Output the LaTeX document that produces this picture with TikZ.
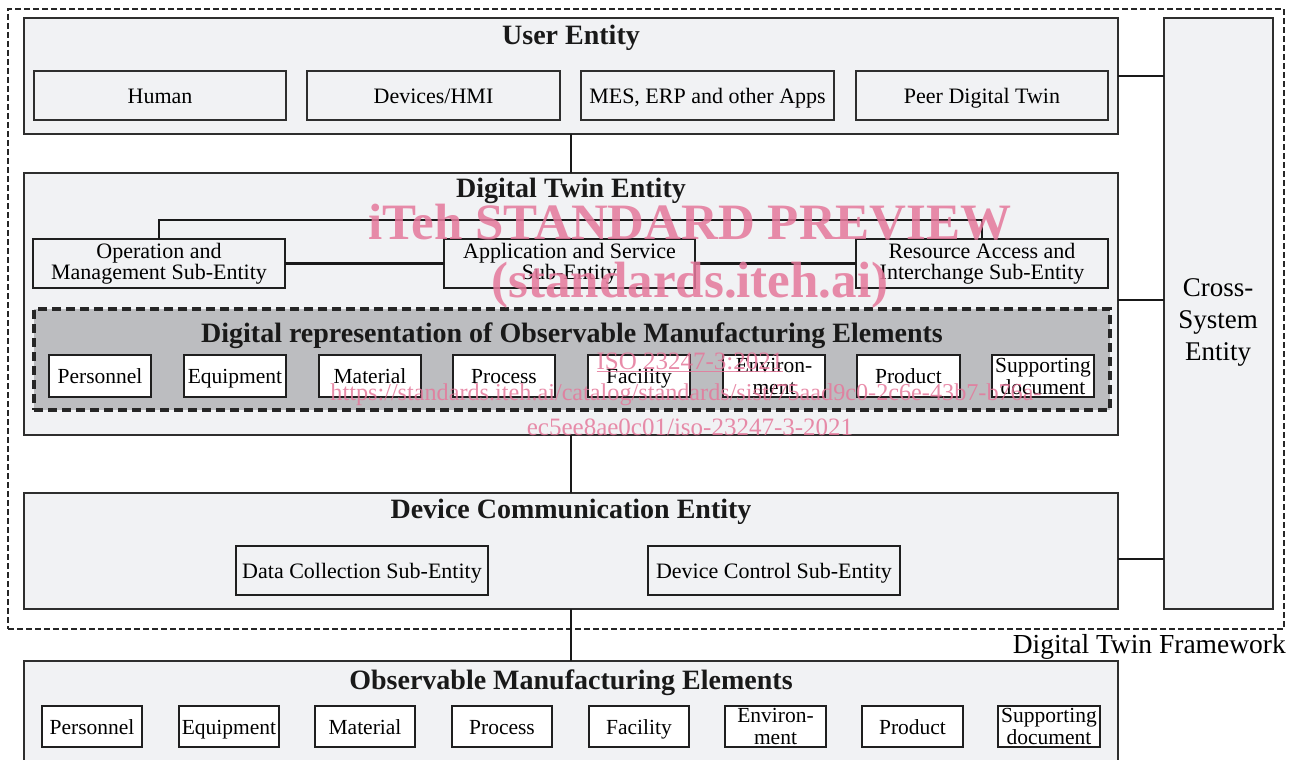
\documentclass[tikz,border=0pt]{standalone}
\usepackage{fontspec}
\setmainfont{Liberation Serif}
\usetikzlibrary{calc}
\definecolor{entfill}{HTML}{F1F2F4}
\definecolor{repfill}{HTML}{BCBDC0}
\definecolor{edgec}{HTML}{2E2E2E}
\definecolor{wmc}{HTML}{E5789B}
\tikzset{
  ent/.style={draw=edgec, line width=1.4pt, fill=entfill, anchor=north west, inner sep=0pt, outer sep=0pt},
  ubox/.style={draw=edgec, line width=1.2pt, fill=entfill, anchor=north west, inner sep=0pt, outer sep=0pt, align=center, font=\fontsize{22}{24}\selectfont},
  sbox/.style={draw=black!88, line width=2.2pt, fill=entfill, anchor=north west, inner sep=0pt, outer sep=0pt, align=center, font=\fontsize{22}{21}\selectfont},
  ebox/.style={draw=black!88, line width=1.8pt, fill=white, anchor=north west, inner sep=0pt, outer sep=0pt, align=center, font=\fontsize{21.5}{22}\selectfont},
  one/.style={text height=15pt, text depth=0pt},
  repbox/.style={draw=black!85, line width=4pt, dash pattern=on 9pt off 5pt, fill=repfill, anchor=north west, inner sep=0pt, outer sep=0pt},
  frame/.style={draw=black!85, line width=1.8pt, dash pattern=on 6pt off 3pt, anchor=north west, inner sep=0pt, outer sep=0pt},
  ttl/.style={font=\fontsize{28}{30}\selectfont\bfseries, text=black!90, inner sep=0pt, text height=19pt, text depth=0pt},
  conn/.style={draw=black!90, line width=1.6pt},
  iconn/.style={draw=black!90, line width=2.2pt},
  wm/.style={text=wmc, opacity=0.85, inner sep=0pt},
}
\newcommand{\bx}[7]{\node[#2, minimum width={#5-#3}, minimum height={#6-#4}] (#1) at (#3,#4) {#7};}
\begin{document}
\begin{tikzpicture}[x=1pt, y=-1pt]
\useasboundingbox (0,0) rectangle (1290,760);
\fill[white] (0,0) rectangle (1290,760);

% outer framework
\bx{fw}{frame}{8}{9}{1284}{629}{}
\node[anchor=east, font=\fontsize{27.5}{28}\selectfont, inner sep=0pt, text height=18pt, text depth=0pt] (fwl) at (1286,644) {Digital Twin Framework};

% User entity
\bx{ue}{ent}{24}{18}{1118}{134}{}
\node[ttl] (uet) at (571,35) {User Entity};
\bx{hum}{ubox,one}{34}{71}{286}{120}{Human}
\bx{dev}{ubox,one}{307}{71}{560}{120}{Devices/HMI}
\bx{mes}{ubox,one}{581}{71}{834}{120}{MES, ERP and other Apps}
\bx{peer}{ubox,one}{856}{71}{1108}{120}{Peer Digital Twin}

% Cross-system entity
\bx{cse}{ent}{1164}{18}{1273}{609}{}
\node[align=center, font=\fontsize{27}{32}\selectfont, inner sep=0pt] (cset) at (1218,322) {Cross-\\System\\Entity};

% Digital twin entity
\bx{dte}{ent}{24}{173}{1118}{435}{}
\node[ttl] (dtet) at (571,188) {Digital Twin Entity};
\bx{op}{sbox}{33}{239}{285}{288}{Operation and\\Management Sub-Entity}
\bx{app}{sbox}{444}{239}{695}{288}{Application and Service\\Sub-Entity}
\bx{res}{sbox}{856}{239}{1108}{288}{Resource Access and\\Interchange Sub-Entity}
\draw[iconn] (op.north) -- ++(0,-19) -| (res.north);
\draw[iconn] (op.east) -- (app.west);
\draw[iconn] (app.east) -- (res.west);

% Digital representation
\bx{rep}{repbox}{34}{309}{1110}{410}{}
\node[ttl] (rept) at (572,333) {Digital representation of Observable Manufacturing Elements};
\bx{r1}{ebox,one}{49}{355}{151}{397}{Personnel}
\bx{r2}{ebox,one}{184}{355}{286}{397}{Equipment}
\bx{r3}{ebox,one}{319}{355}{421}{397}{Material}
\bx{r4}{ebox,one}{453}{355}{555}{397}{Process}
\bx{r5}{ebox,one}{588}{355}{690}{397}{Facility}
\bx{r6}{ebox}{723}{355}{825}{397}{Environ-\\ment}
\bx{r7}{ebox,one}{857}{355}{960}{397}{Product}
\bx{r8}{ebox}{992}{355}{1094}{397}{Supporting\\document}

% Device communication entity
\bx{dce}{ent}{24}{493}{1118}{609}{}
\node[ttl] (dcet) at (571,509) {Device Communication Entity};
\bx{dcol}{sbox,one}{236}{546}{488}{595}{Data Collection Sub-Entity}
\bx{dctl}{sbox,one}{648}{546}{900}{595}{Device Control Sub-Entity}

% Observable manufacturing elements
\bx{ome}{ent}{24}{661}{1118}{775}{}
\node[ttl] (omet) at (571,680) {Observable Manufacturing Elements};
\bx{o1}{ebox,one}{42}{706}{142}{747}{Personnel}
\bx{o2}{ebox,one}{179}{706}{279}{747}{Equipment}
\bx{o3}{ebox,one}{315}{706}{415}{747}{Material}
\bx{o4}{ebox,one}{452}{706}{552}{747}{Process}
\bx{o5}{ebox,one}{589}{706}{689}{747}{Facility}
\bx{o6}{ebox}{725}{706}{826}{747}{Environ-\\ment}
\bx{o7}{ebox,one}{862}{706}{963}{747}{Product}
\bx{o8}{ebox}{998}{706}{1100}{747}{Supporting\\document}

% connectors
\draw[conn] (ue.south) -- (dte.north);
\draw[conn] (dte.south) -- (dce.north);
\draw[conn] (dce.south) -- (ome.north);
\draw[iconn] (ue.east) -- (ue.east -| cse.west);
\coordinate (dtx) at ($(dte.north east)!0.485!(dte.south east)$);
\draw[iconn] (dtx) -- (dtx -| cse.west);
\coordinate (dcx) at ($(dce.north east)!0.57!(dce.south east)$);
\draw[iconn] (dcx) -- (dcx -| cse.west);

% watermark
\node[wm, font=\fontsize{51}{51}\selectfont\bfseries] (wm1) at (690,222) {iTeh STANDARD PREVIEW};
\node[wm, font=\fontsize{51}{51}\selectfont\bfseries] (wm2) at (690,285) {(standards.iteh.ai)};
\node[wm, font=\fontsize{25}{25}\selectfont] (wm3) at (690,362) {\underline{ISO 23247-3:2021}};
\node[wm, font=\fontsize{24.2}{25}\selectfont] (wm4) at (686,395) {https://standards.iteh.ai/catalog/standards/sist/75aad9c0-2c6e-43b7-b76a-};
\node[wm, font=\fontsize{25}{25}\selectfont] (wm5) at (690,427) {ec5ee8ae0c01/iso-23247-3-2021};
\end{tikzpicture}
\end{document}
